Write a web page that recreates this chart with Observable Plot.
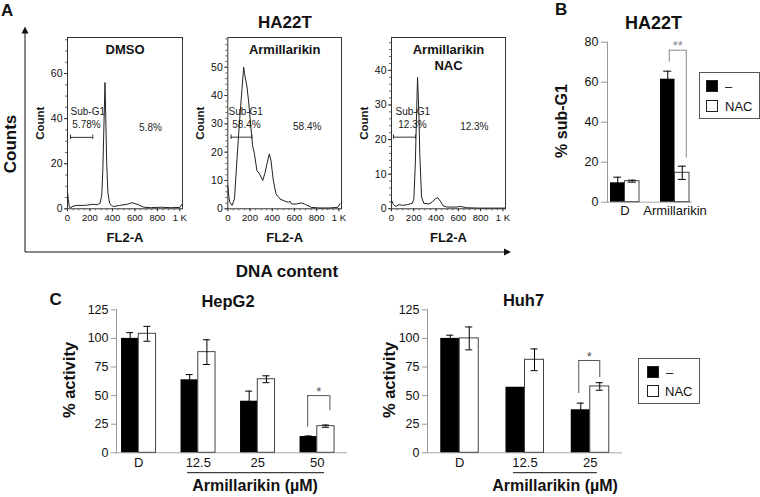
<!DOCTYPE html>
<html><head><meta charset="utf-8">
<script src="https://cdn.jsdelivr.net/npm/d3@7"></script>
<script src="https://cdn.jsdelivr.net/npm/@observablehq/plot@0.6"></script>
<style>
body{margin:0;background:#fff;}
#fig{position:relative;width:760px;height:497px;overflow:hidden;background:#fff;font-family:"Liberation Sans",Arial,sans-serif;color:#111;}
#fig svg{position:absolute;left:0;top:0;}
.lg{position:absolute;border:1px solid #555;background:#fff;}
.sq{position:absolute;box-sizing:border-box;border:1px solid #222;}
.lt{position:absolute;font-size:13px;line-height:13px;color:#111;}
</style></head><body><div id="fig"></div>
<script>
// ---------------- data ----------------
// Panel A: flow-cytometry histograms (FL2-A vs Count)
const fl2Ticks = [0, 200, 400, 600, 800, 1000];
const dmsoCurve = [[0,7.3],[8,4],[16,0.8],[30,0.5],[50,1.2],[86,1.5],[130,1.5],[175,1.6],[220,2],[265,1.8],[290,2.5],[305,6],[315,18],[325,38],[334,56],[341,40],[349,20],[360,7],[375,2.5],[390,1.5],[410,1],[463,1.5],[532,2],[576,2.7],[620,2],[680,0.7],[740,0.5],[830,0.7],[919,0.5],[1000,0.6],[1020,2]];
const armCurve = [[0,8.2],[10,4],[18,2.3],[39,1.2],[60,3.5],[84,18.2],[104,30],[122,39.4],[143,50],[151,47.7],[173,43],[188,37.7],[208,28.8],[223,22.4],[240,19.4],[262,13.5],[285,12.4],[315,10],[336,12.9],[356,16.5],[374,19.4],[389,17],[410,10],[434,5.3],[469,3.5],[514,2.7],[546,2.3],[560,2.7],[573,1.7],[618,1.7],[662,2.1],[701,1.5],[752,0.5],[826,0.3],[915,0.3],[989,0.5],[1010,1.8]];
const nacCurve = [[0,2.4],[18,1.2],[39,0.7],[68,1.2],[98,1],[142,1.2],[187,1.6],[201,2.9],[214,13],[225,27.5],[234,38],[246,27.5],[255,15],[270,3.4],[290,1.6],[335,1.4],[365,1.9],[394,2.9],[415,3.2],[439,2.2],[463,0.9],[498,0.5],[587,0.5],[617,0.7],[676,0.3],[795,0.2],[973,0.2],[1020,0.2]];
const histTitles = [["DMSO"], ["Armillarikin"], ["Armillarikin", "NAC"]];
const subG1Pct = ["5.78%", "58.4%", "12.3%"];
const gatePct = ["5.8%", "58.4%", "12.3%"];
const gateBounds = [[27, 225], [30, 217], [18, 216]];
const gateLevel = [31.7, 25.3, 20.7];
const countMax = [76, 60.5, 49.5];
const countTicks = [[0, 20, 40, 60], [0, 10, 20, 30, 40, 50], [0, 10, 20, 30, 40]];

// Panel B: % sub-G1 (HA22T)
const bGroups = ["D", "Armillarikin"];
const bCtrl = [9.7, 61.5];
const bCtrlErr = [2.8, 4];
const bNac = [10.5, 14.7];
const bNacErr = [0.5, 3.3];
const bSig = [{g: "Armillarikin", top: 76, low1: 70, low2: 22, mark: "**"}];

// Panel C: % activity
const hepGroups = ["D", "12.5", "25", "50"];
const hepCtrl = [100, 63.8, 45.1, 14.2];
const hepCtrlErr = [5, 4.6, 8.8, 0.5];
const hepNac = [104, 88, 64.3, 23.3];
const hepNacErr = [6.5, 10.8, 3, 1];
const hepSig = [{g: "50", top: 50, low1: 22.4, low2: 37, mark: "*"}];

const huhGroups = ["D", "12.5", "25"];
const huhCtrl = [100, 57.3, 37.6];
const huhCtrlErr = [2.8, 0, 5.8];
const huhNac = [100, 81.3, 58];
const huhNacErr = [10, 9.5, 3.3];
const huhSig = [{g: "25", top: 80.7, low1: 51.8, low2: 65.8, mark: "*"}];

const activityTicks = [0, 25, 50, 75, 100, 125];
const subG1Ticks = [0, 20, 40, 60, 80];
const seriesNames = ["–", "NAC"];

// ---------------- layout ----------------
const W = 760, H = 497;
const FONT = "'Liberation Sans', Arial, sans-serif";
const fig = document.getElementById("fig");
const style = (bg) => ({background: bg, fontFamily: FONT, fontSize: "10px", overflow: "visible", color: "#111"});

const histLayout = [
  {frame: [67, 182], minorY: 5, sub: [27, 43], pct: [169, 37.3], pct2: [739, 36]},
  {frame: [227.3, 341], minorY: 2, sub: [6, 34.4], pct: [168, 29.8], pct2: [715, 28.8]},
  {frame: [391, 505], minorY: 2, sub: [36, 27.9], pct: [188, 24.4], pct2: [744, 23.6]}
];

function hist(i) {
  const L = histLayout[i];
  const yMax = countMax[i];
  const [l, r] = L.frame;
  const capH = yMax * 0.013;
  const marks = [
    Plot.frame({stroke: "#333", strokeWidth: 1}),
    Plot.axisY({ticks: d3.range(0, yMax, L.minorY), tickSize: 2, fill: "none", stroke: "#666", label: null}),
    Plot.axisY({ticks: countTicks[i], tickSize: 3, tickPadding: 2, fontSize: 10.5, stroke: "#333", fill: "#111", label: null}),
    Plot.axisX({ticks: d3.range(0, 1025, 50), tickSize: 2, fill: "none", stroke: "#666", label: null}),
    Plot.axisX({ticks: fl2Ticks, tickSize: 3, tickPadding: 2, fontSize: 9.5, stroke: "#333", fill: "#111", label: null,
      tickFormat: d => d === 1000 ? "1 K" : String(d)}),
    Plot.line(i === 0 ? dmsoCurve : i === 1 ? armCurve : nacCurve, {x: d => d[0], y: d => d[1], stroke: "#222", strokeWidth: 1}),
    Plot.ruleY([gateLevel[i]], {x1: gateBounds[i][0], x2: gateBounds[i][1], stroke: "#333"}),
    Plot.ruleX(gateBounds[i], {y1: gateLevel[i] - capH, y2: gateLevel[i] + capH, stroke: "#333"}),
    Plot.text(["Sub-G1"], {x: L.sub[0], y: L.sub[1], textAnchor: "start", fontSize: 10, fill: "#222"}),
    Plot.text([subG1Pct[i]], {x: L.pct[0], y: L.pct[1], fontSize: 10, fill: "#222"}),
    Plot.text([gatePct[i]], {x: L.pct2[0], y: L.pct2[1], fontSize: 10, fill: "#222"}),
    Plot.text(["Count"], {frameAnchor: "left", dx: -27, rotate: -90, textAnchor: "middle", lineAnchor: "middle", fontWeight: "bold", fontSize: 11.5, fill: "#111"}),
    Plot.text(["FL2-A"], {frameAnchor: "bottom", dy: 29, lineAnchor: "middle", fontWeight: "bold", fontSize: 13, fill: "#111"})
  ];
  histTitles[i].forEach((t, k) => marks.push(
    Plot.text([t], {frameAnchor: "top", dy: 12 + 16 * k, lineAnchor: "middle", fontWeight: "bold", fontSize: 13, fill: "#111"})));
  return Plot.plot({
    width: W, height: H,
    marginLeft: l, marginRight: W - r, marginTop: 37, marginBottom: H - 208.3,
    x: {domain: [0, 1024]}, y: {domain: [0, yMax]},
    style: style(i === 0 ? "white" : "transparent"),
    marks
  });
}

function bars(cfg) {
  const rows = cfg.groups.map((g, i) => ({g, c: cfg.ctrl[i], ce: cfg.ctrlErr[i], n: cfg.nac[i], ne: cfg.nacErr[i]}));
  const bw = d3.scaleBand().domain(cfg.groups).range([cfg.left, cfg.right])
    .paddingInner(cfg.pi).paddingOuter(cfg.po).align(cfg.align).bandwidth();
  const q = bw / 4, cap = cfg.cap;
  const cE = rows.filter(d => d.ce > 0), nE = rows.filter(d => d.ne > 0);
  const [oL, oR] = cfg.sigOff;
  return Plot.plot({
    width: W, height: H,
    marginLeft: cfg.left, marginRight: W - cfg.right, marginTop: cfg.top, marginBottom: H - cfg.bottom,
    x: {domain: cfg.groups, paddingInner: cfg.pi, paddingOuter: cfg.po, align: cfg.align, round: false},
    y: {domain: cfg.yDomain},
    style: style("transparent"),
    marks: [
      Plot.ruleY([0], {stroke: "#aaa"}),
      Plot.frame({anchor: "left", stroke: "#999"}),
      Plot.axisY({ticks: cfg.yTicks, tickSize: cfg.tickSize, tickPadding: 3, fontSize: 12.5, stroke: "#999", fill: "#111", label: null}),
      Plot.axisX({tickSize: 0, tickPadding: cfg.xPad, fontSize: 13, fill: "#111", label: null}),
      Plot.barY(rows, {x: "g", y: "c", fill: "#000", insetRight: bw / 2}),
      Plot.barY(rows, {x: "g", y: "n", fill: "#fff", stroke: "#444", strokeWidth: 1, insetLeft: bw / 2}),
      Plot.ruleX(cE, {x: "g", y1: d => d.c - d.ce, y2: d => d.c + d.ce, dx: -q, stroke: "#000"}),
      Plot.tickY(cE, {x: "g", y: d => d.c + d.ce, insetLeft: q - cap, insetRight: bw - q - cap, stroke: "#000"}),
      Plot.ruleX(nE, {x: "g", y1: d => d.n - d.ne, y2: d => d.n + d.ne, dx: q, stroke: "#000"}),
      Plot.tickY(nE, {x: "g", y: d => d.n + d.ne, insetLeft: 3 * q - cap, insetRight: q - cap, stroke: "#000"}),
      Plot.tickY(nE, {x: "g", y: d => d.n - d.ne, insetLeft: 3 * q - cap, insetRight: q - cap, stroke: "#000"}),
      Plot.ruleX(cfg.sig, {x: "g", y1: "low1", y2: "top", dx: -q + oL, stroke: cfg.sigColor}),
      Plot.ruleX(cfg.sig, {x: "g", y1: "low2", y2: "top", dx: q + oR, stroke: cfg.sigColor}),
      Plot.tickY(cfg.sig, {x: "g", y: "top", insetLeft: q + oL, insetRight: q - oR, stroke: cfg.sigColor}),
      Plot.text(cfg.sig, {x: "g", y: "top", text: "mark", dy: -4, dx: (oL + oR) / 2, fontSize: 13, fill: cfg.sigColor})
    ]
  });
}

fig.appendChild(hist(0));
fig.appendChild(hist(1));
fig.appendChild(hist(2));

fig.appendChild(bars({groups: bGroups, ctrl: bCtrl, ctrlErr: bCtrlErr, nac: bNac, nacErr: bNacErr, sig: bSig,
  left: 607, right: 692, top: 41.7, bottom: 201.7, pi: 0.42, po: 0.06, align: 0.5,
  yDomain: [0, 80], yTicks: subG1Ticks, tickSize: 6, xPad: 4, cap: 4, sigOff: [1.5, 4], sigColor: "#888"}));

fig.appendChild(bars({groups: hepGroups, ctrl: hepCtrl, ctrlErr: hepCtrlErr, nac: hepNac, nacErr: hepNacErr, sig: hepSig,
  left: 116, right: 347, top: 309.3, bottom: 452.3, pi: 0.4202, po: 0.1513, align: 0.28,
  yDomain: [0, 125], yTicks: activityTicks, tickSize: 5, xPad: 5, cap: 3.5, sigOff: [-1, 4], sigColor: "#555"}));

fig.appendChild(bars({groups: huhGroups, ctrl: huhCtrl, ctrlErr: huhCtrlErr, nac: huhNac, nacErr: huhNacErr, sig: huhSig,
  left: 427, right: 622, top: 309.3, bottom: 452.3, pi: 0.4176, po: 0.203, align: 0.5,
  yDomain: [0, 125], yTicks: activityTicks, tickSize: 5, xPad: 5, cap: 3.5, sigOff: [-2, 0], sigColor: "#555"}));

// ---------------- annotations overlay ----------------
const ov = d3.select(fig).append("svg").attr("width", W).attr("height", H)
  .style("font-family", FONT).style("overflow", "visible");
function txt(x, y, s, size, opt = {}) {
  const t = ov.append("text").attr("x", x).attr("y", y).text(s)
    .attr("font-size", size).attr("font-weight", opt.weight || "bold")
    .attr("text-anchor", opt.anchor || "middle").attr("fill", "#111");
  if (opt.rotate) t.attr("x", 0).attr("y", 0).attr("transform", `translate(${x},${y}) rotate(${opt.rotate})`);
  return t;
}
// axes arrows of panel A
ov.append("line").attr("x1", 25).attr("y1", 252).attr("x2", 25).attr("y2", 32).attr("stroke", "#111").attr("stroke-width", 1);
ov.append("path").attr("d", "M25,26.5 L21.5,33.5 L28.5,33.5 Z").attr("fill", "#111");
ov.append("line").attr("x1", 25).attr("y1", 252).attr("x2", 505).attr("y2", 252).attr("stroke", "#111").attr("stroke-width", 1);
ov.append("path").attr("d", "M511,252 L504,248.5 L504,255.5 Z").attr("fill", "#111");

txt(1, 15.5, "A", 17, {anchor: "start"});
txt(555, 15, "B", 17, {anchor: "start"});
txt(49.5, 305, "C", 17, {anchor: "start"});
txt(285, 28, "HA22T", 17);
txt(653.5, 29, "HA22T", 18);
txt(228, 306.5, "HepG2", 16.5);
txt(523.5, 306, "Huh7", 16.5);
txt(16, 144, "Counts", 17, {rotate: -90});
txt(287, 277, "DNA content", 17);
txt(567, 121, "% sub-G1", 16, {rotate: -90});
txt(75, 380, "% activity", 16.5, {rotate: -90});
txt(395, 380, "% activity", 16.5, {rotate: -90});
txt(255, 491, "Armillarikin (µM)", 16);
txt(555, 491, "Armillarikin (µM)", 16);
ov.append("line").attr("x1", 187).attr("x2", 324).attr("y1", 472.7).attr("y2", 472.7).attr("stroke", "#111");
ov.append("line").attr("x1", 513).attr("x2", 597).attr("y1", 472.7).attr("y2", 472.7).attr("stroke", "#111");

// ---------------- legends ----------------
function legend(box, items) {
  const d = d3.select(fig).append("div").attr("class", "lg")
    .style("left", box[0] + "px").style("top", box[1] + "px").style("width", box[2] + "px").style("height", box[3] + "px");
  items.forEach(it => {
    d.append("div").attr("class", "sq").style("left", it.sx + "px").style("top", it.sy + "px")
      .style("width", it.s + "px").style("height", it.s + "px").style("background", it.fill);
    d.append("div").attr("class", "lt").style("left", it.tx + "px").style("top", it.ty + "px").text(it.label);
  });
}
legend([699, 72, 59, 45], [
  {label: seriesNames[0], fill: "#000", sx: 6, sy: 7, s: 12, tx: 25, ty: 7},
  {label: seriesNames[1], fill: "#fff", sx: 6, sy: 27, s: 12, tx: 25, ty: 27}
]);
legend([638, 358, 60, 44], [
  {label: seriesNames[0], fill: "#000", sx: 8, sy: 7, s: 11.5, tx: 27, ty: 7},
  {label: seriesNames[1], fill: "#fff", sx: 8, sy: 26, s: 11.5, tx: 26, ty: 26}
]);
</script></body></html>
